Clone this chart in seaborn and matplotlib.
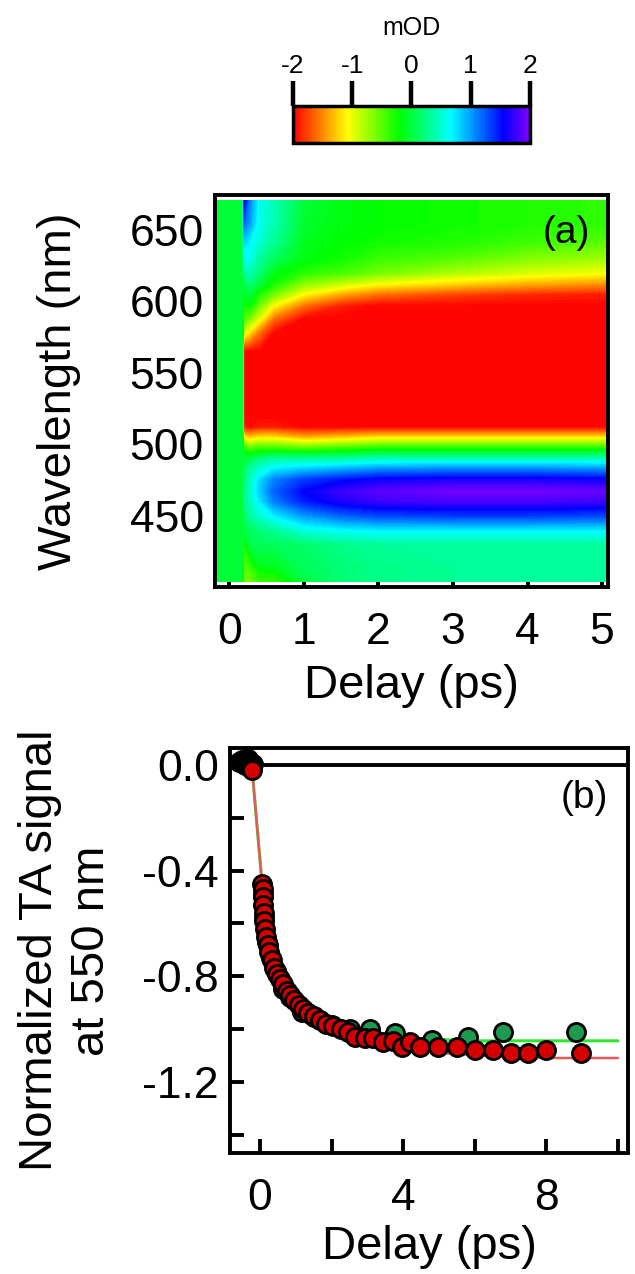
import numpy as np
import pandas as pd
import matplotlib
matplotlib.use("Agg")
import matplotlib.pyplot as plt
from matplotlib.colors import LinearSegmentedColormap, Normalize
from matplotlib.cm import ScalarMappable
from matplotlib.ticker import FixedLocator, FormatStrFormatter
import seaborn as sns

# --- panel (a): TA map, mOD (rows = wavelength, cols = delay)
delay_a = [-0.17, 0.18, 0.20, 0.27, 0.4, 0.6, 1.0, 1.5, 2.0, 3.0, 4.0, 5.06]
wavelength_a = [404, 415, 430, 440, 450, 460, 467, 475, 483, 490, 497, 505, 512,
                520, 545, 565, 578, 588, 597, 605, 612, 620, 630, 642, 655, 671]
mod_a = [
    [0, 0, -0.6, -0.6, -0.4, -0.4, 0.0, 0.2, 0.25, 0.3, 0.3, 0.3],          # 404
    [0, 0, -0.5, -0.4, -0.1, -0.1, 0.1, 0.2, 0.25, 0.3, 0.3, 0.3],          # 415
    [0, 0, -0.3, 0.0, 0.1, 0.1, 0.15, 0.25, 0.3, 0.3, 0.3, 0.3],            # 430
    [0, 0, 0.0, 0.1, 0.2, 0.3, 0.55, 0.65, 0.7, 0.7, 0.7, 0.7],             # 440
    [0, 0, 0.1, 0.3, 0.5, 0.7, 1.0, 1.2, 1.3, 1.35, 1.35, 1.3],             # 450
    [0, 0, 0.2, 0.4, 0.7, 1.1, 1.45, 1.65, 1.75, 1.8, 1.8, 1.75],           # 460
    [0, 0, 0.2, 0.45, 0.8, 1.2, 1.55, 1.75, 1.85, 1.95, 1.95, 1.9],         # 467
    [0, 0, 0.15, 0.4, 0.75, 1.1, 1.35, 1.5, 1.6, 1.65, 1.65, 1.6],          # 475
    [0, 0, 0.1, 0.3, 0.5, 0.7, 0.8, 0.9, 1.0, 1.05, 1.05, 1.0],             # 483
    [0, 0, 0.0, 0.0, 0.2, 0.3, 0.3, 0.3, 0.4, 0.4, 0.4, 0.4],               # 490
    [0, 0, -0.3, -0.5, -0.4, -0.4, -0.5, -0.4, -0.3, -0.3, -0.3, -0.3],     # 497
    [0, 0, -1.2, -1.3, -1.2, -1.2, -1.4, -1.3, -1.2, -1.2, -1.2, -1.2],     # 505
    [0, 0, -1.9, -2.0, -1.9, -1.9, -2.1, -2.0, -2.0, -2.0, -2.0, -2.0],     # 512
    [0, 0, -2.3, -2.4, -2.4, -2.4, -2.5, -2.5, -2.5, -2.5, -2.5, -2.5],     # 520
    [0, 0, -2.5, -2.6, -2.6, -2.6, -2.7, -2.7, -2.7, -2.7, -2.7, -2.7],     # 545
    [0, 0, -2.0, -2.1, -2.3, -2.5, -2.6, -2.6, -2.6, -2.6, -2.6, -2.6],     # 565
    [0, 0, -1.0, -1.2, -1.6, -2.1, -2.4, -2.5, -2.5, -2.5, -2.5, -2.5],     # 578
    [0, 0, -0.5, -0.6, -1.0, -1.6, -2.1, -2.3, -2.4, -2.4, -2.4, -2.4],     # 588
    [0, 0, -0.3, -0.2, -0.6, -1.1, -1.6, -1.9, -2.1, -2.2, -2.2, -2.2],     # 597
    [0, 0, -0.1, 0.0, -0.3, -0.6, -1.1, -1.4, -1.6, -1.75, -1.85, -1.9],    # 605
    [0, 0, 0.0, 0.2, 0.0, -0.3, -0.7, -0.9, -1.1, -1.25, -1.4, -1.5],       # 612
    [0, 0, 0.3, 0.4, 0.2, -0.15, -0.35, -0.45, -0.6, -0.8, -0.95, -1.05],   # 620
    [0, 0, 0.6, 0.6, 0.3, 0.1, -0.15, -0.25, -0.4, -0.5, -0.65, -0.75],     # 630
    [0, 0, 0.8, 0.7, 0.5, 0.3, -0.1, -0.2, -0.25, -0.3, -0.4, -0.5],        # 642
    [0, 0, 1.2, 1.0, 0.6, 0.4, -0.05, -0.15, -0.2, -0.25, -0.3, -0.35],     # 655
    [0, 0, 1.6, 1.1, 0.6, 0.4, 0.0, -0.15, -0.2, -0.25, -0.3, -0.35],       # 671
]
cbar_ticks = [-2, -1, 0, 1, 2]

# --- panel (b): normalized kinetics at 550 nm
black_t = [-0.6, -0.5, -0.42, -0.35, -0.28, -0.2]
black_v = [0.01, 0.02, 0.0, 0.025, 0.01, 0.005]

red_t = [-0.22, 0.06, 0.07, 0.08, 0.09, 0.10, 0.12, 0.14, 0.17, 0.21, 0.26, 0.32,
         0.40, 0.48, 0.56, 0.65, 0.75, 0.85, 0.96, 1.08, 1.2, 1.35, 1.5, 1.67,
         1.85, 2.05, 2.25, 2.45, 2.65, 2.93, 3.16, 3.43, 3.71, 3.96, 4.2, 4.46,
         4.97, 5.49, 6.0, 6.5, 7.0, 7.48, 7.98, 8.98]
red_v = [-0.02, -0.45, -0.47, -0.50, -0.53, -0.56, -0.59, -0.62, -0.65, -0.68,
         -0.71, -0.74, -0.77, -0.79, -0.81, -0.83, -0.855, -0.87, -0.89, -0.91,
         -0.925, -0.94, -0.95, -0.965, -0.98, -0.99, -1.0, -1.01, -1.03, -1.035,
         -1.035, -1.05, -1.045, -1.07, -1.05, -1.07, -1.07, -1.07, -1.08, -1.08,
         -1.09, -1.09, -1.08, -1.09]

green_t = [0.08, 0.12, 0.2, 0.3, 0.45, 0.64, 0.85, 1.17, 1.5, 2.0, 2.5, 3.07,
           3.77, 4.8, 5.8, 6.8, 8.84]
green_v = [-0.49, -0.58, -0.67, -0.73, -0.78, -0.85, -0.88, -0.935, -0.955,
           -0.985, -1.0, -1.0, -1.015, -1.04, -1.03, -1.01, -1.01]

red_fit_t = [-0.22, 0.05, 0.2, 0.5, 1.0, 1.5, 2.0, 3.0, 4.0, 5.0, 6.0, 8.0, 10.0]
red_fit_v = [-0.02, -0.44, -0.66, -0.79, -0.90, -0.95, -0.99, -1.04, -1.07,
             -1.09, -1.10, -1.11, -1.11]
green_fit_t = [-0.22, 0.05, 0.2, 0.5, 1.0, 1.5, 2.0, 3.0, 4.0, 5.0, 6.0, 8.0, 10.0]
green_fit_v = [-0.02, -0.44, -0.66, -0.79, -0.90, -0.95, -0.98, -1.02, -1.035,
               -1.04, -1.045, -1.045, -1.045]

sns.set_style("ticks")
plt.rcParams['font.family'] = ['Liberation Sans', 'DejaVu Sans']
plt.rcParams['axes.unicode_minus'] = False
for key in ('text.color', 'axes.labelcolor', 'xtick.color', 'ytick.color',
            'axes.edgecolor'):
    plt.rcParams[key] = 'black'

fig = plt.figure(figsize=(6.35, 12.74), dpi=100)

cmap = LinearSegmentedColormap.from_list('ta', [
    (0.0, '#ff0000'), (0.23, '#ffff00'), (0.45, '#00ff00'),
    (0.665, '#00ffff'), (0.89, '#0000ff'), (1.0, '#8000ff')])
norm = Normalize(-2, 2)

# ---------- (a) ----------
ax_a = fig.add_axes([0.3386, 0.5392, 0.619, 0.3077])
Z = np.clip(np.array(mod_a), -2, 2)
ax_a.contourf(delay_a, wavelength_a, Z, levels=np.linspace(-2, 2, 121),
              cmap=cmap, norm=norm)
ax_a.set_xlim(-0.19, 5.08)
ax_a.set_ylim(400, 674.5)
ax_a.set_xticks([0, 1, 2, 3, 4, 5])
ax_a.set_yticks([450, 500, 550, 600, 650])
ax_a.text(0.955, 0.95, '(a)', transform=ax_a.transAxes, ha='right', va='top',
          fontsize=28)

# colorbar
cax = fig.add_axes([0.4614, 0.8878, 0.3732, 0.029])
cb = fig.colorbar(ScalarMappable(norm=norm, cmap=cmap), cax=cax,
                  orientation='horizontal', ticks=cbar_ticks)
cax.xaxis.set_ticks_position('top')
cax.xaxis.set_label_position('top')
cax.tick_params(axis='x', direction='out', length=18, width=3.2, labelsize=19, pad=2)
cb.outline.set_linewidth(2.5)
cb.set_label('mOD', fontsize=18, labelpad=14)

# ---------- (b) ----------
ax_b = fig.add_axes([0.3622, 0.0950, 0.6268, 0.3179])
ax_b.axhline(0, color='black', lw=2.8, zorder=1)
sns.lineplot(x=green_fit_t, y=green_fit_v, ax=ax_b, color='#2ee82e', lw=2.2,
             sort=False, estimator=None, zorder=2)
sns.lineplot(x=red_fit_t, y=red_fit_v, ax=ax_b, color='#e25a5a', lw=1.8,
             sort=False, estimator=None, zorder=2.5)
sns.scatterplot(x=green_t, y=green_v, ax=ax_b, color='#1e9a50', edgecolor='black',
                linewidth=2, s=170, zorder=3)
sns.scatterplot(x=black_t, y=black_v, ax=ax_b, color='black', edgecolor='black',
                linewidth=2, s=170, zorder=4)
sns.scatterplot(x=red_t, y=red_v, ax=ax_b, color='#d40000', edgecolor='black',
                linewidth=2, s=170, zorder=5)
ax_b.set_xlim(-0.84, 10.28)
ax_b.set_ylim(-1.47, 0.065)
ax_b.xaxis.set_major_locator(FixedLocator([0, 4, 8]))
ax_b.xaxis.set_minor_locator(FixedLocator([2, 6, 10]))
ax_b.yaxis.set_major_locator(FixedLocator([-1.2, -0.8, -0.4, 0.0]))
ax_b.yaxis.set_minor_locator(FixedLocator([-1.4, -1.0, -0.6, -0.2]))
ax_b.yaxis.set_major_formatter(FormatStrFormatter('%.1f'))
ax_b.text(0.95, 0.92, '(b)', transform=ax_b.transAxes, ha='right', va='top',
          fontsize=28)

for ax in (ax_a, ax_b):
    for sp in ax.spines.values():
        sp.set_linewidth(2.8)
        sp.set_color('black')
    ax.tick_params(which='both', direction='in', length=10, width=2.8,
                   labelsize=32, top=False, right=False)
    ax.tick_params(axis='y', pad=8)
    ax.tick_params(axis='x', pad=18)

ax_a.set_xlabel('Delay (ps)', fontsize=34, labelpad=8)
ax_a.set_ylabel('Wavelength (nm)', fontsize=34, labelpad=35)
ax_b.set_xlabel('Delay (ps)', fontsize=34, labelpad=4)
ax_b.set_ylabel('Normalized TA signal\nat 550 nm', fontsize=34, labelpad=20,
                linespacing=1.25)

fig.savefig('out.png', dpi=100)
